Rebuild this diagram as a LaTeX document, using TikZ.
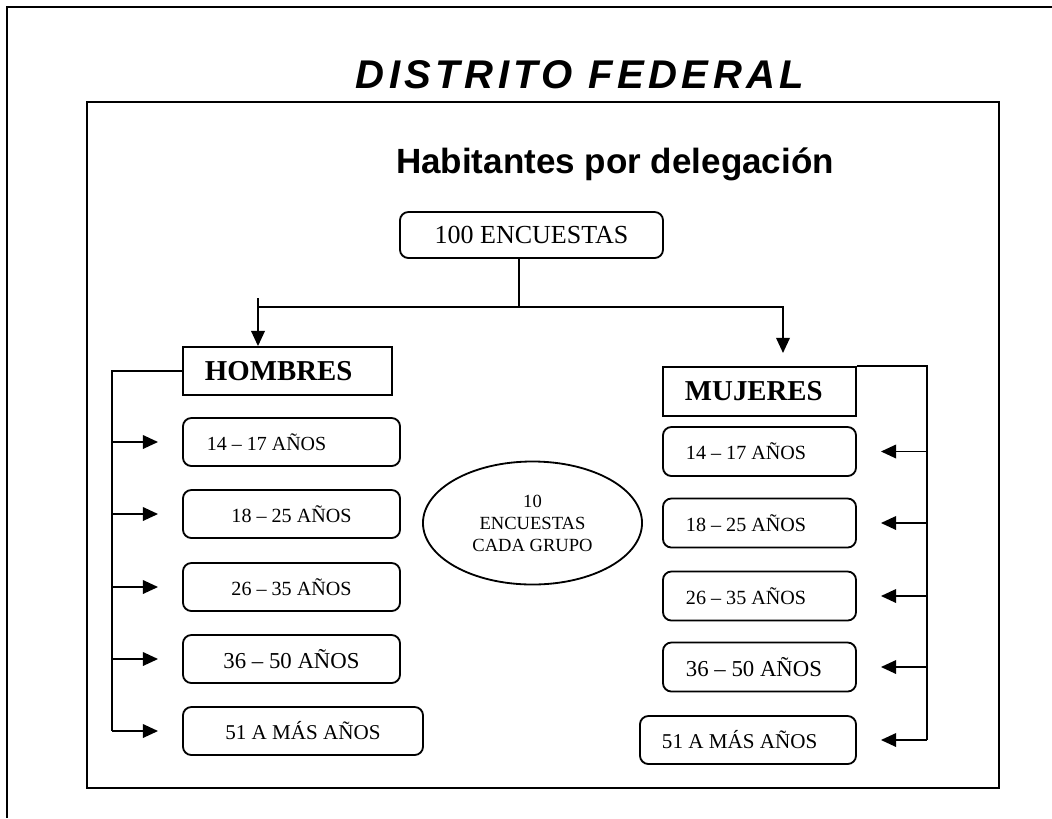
\documentclass[tikz,border=0pt]{standalone}
\usepackage{fontspec}
\setmainfont{Liberation Serif}
\setsansfont{Liberation Sans}
\newfontfamily\titlefont[LetterSpace=11]{Liberation Sans}
\usetikzlibrary{shapes.geometric,arrows.meta}

\begin{document}
\begin{tikzpicture}[x=0.025cm,y=-0.025cm]
\tikzstyle{agebox} = [rectangle, rounded corners=6pt, draw=black, line width=1.3pt, minimum height=1.2cm, text centered]
\tikzstyle{sexbox} = [rectangle, draw=black, line width=1.3pt, minimum height=1.2cm, inner xsep=0.55cm, align=flush left, font=\fontsize{20.5}{24}\selectfont\bfseries]
\tikzstyle{line} = [line width=1.3pt]
\tikzstyle{arrow} = [line width=1.3pt,->,>={Triangle[length=3.8mm,width=3.4mm]}]
\useasboundingbox (0,0) rectangle (1052,818);
% frames
\draw [line] (1052,7) -- (7,7) -- (7,818);
\draw [line] (87,102) rectangle (999,788);
% titles
\node (title) [anchor=base, font=\titlefont\bfseries\itshape\fontsize{28.5}{34}\selectfont] at (580,88) {DISTRITO FEDERAL};
\node (sub) [anchor=base, font=\sffamily\bfseries\fontsize{24.9}{30}\selectfont] at (615,173) {Habitantes por delegación};
\node (enc) [agebox, minimum width=6.575cm, minimum height=1.15cm, font=\fontsize{18.5}{22}\selectfont] at (531.5,235) {100 ENCUESTAS};
\node (hom) [sexbox, text width=4.125cm] at (287.5,371) {HOMBRES};
\node (muj) [sexbox, text width=3.725cm, minimum height=1.225cm] at (759.5,391.5) {MUJERES};
% hombres
\node (h1) [agebox, minimum width=5.425cm, inner xsep=0.6cm, text width=4.225cm, align=flush left, font=\fontsize{14.2}{17}\selectfont] at (291.5,442) {14 – 17 AÑOS};
\node (h2) [agebox, minimum width=5.425cm, font=\fontsize{14.3}{17}\selectfont] at (291.5,514) {18 – 25 AÑOS};
\node (h3) [agebox, minimum width=5.425cm, font=\fontsize{14.3}{17}\selectfont] at (291.5,587) {26 – 35 AÑOS};
\node (h4) [agebox, minimum width=5.425cm, font=\fontsize{16.2}{19}\selectfont] at (291.5,659) {36 – 50 AÑOS};
\node (h5) [agebox, minimum width=6cm, font=\fontsize{15}{18}\selectfont] at (303,731) {51 A MÁS AÑOS};
% mujeres
\node (m1) [agebox, minimum width=4.825cm, minimum height=1.225cm, inner xsep=0.575cm, text width=3.675cm, align=flush left, font=\fontsize{14.3}{17}\selectfont] at (759.5,451.5) {14 – 17 AÑOS};
\node (m2) [agebox, minimum width=4.825cm, minimum height=1.225cm, inner xsep=0.575cm, text width=3.675cm, align=flush left, font=\fontsize{14.3}{17}\selectfont] at (759.5,523) {18 – 25 AÑOS};
\node (m3) [agebox, minimum width=4.825cm, minimum height=1.225cm, inner xsep=0.575cm, text width=3.675cm, align=flush left, font=\fontsize{14.3}{17}\selectfont] at (759.5,596) {26 – 35 AÑOS};
\node (m4) [agebox, minimum width=4.825cm, minimum height=1.225cm, inner xsep=0.575cm, text width=3.675cm, align=flush left, font=\fontsize{16.2}{19}\selectfont] at (759.5,667) {36 – 50 AÑOS};
\node (m5) [agebox, minimum width=5.4cm, inner xsep=0.55cm, text width=4.3cm, align=flush left, font=\fontsize{15}{18}\selectfont] at (748,740) {51 A MÁS AÑOS};
\node (grp) [ellipse, draw=black, line width=1.3pt, minimum width=5.475cm, minimum height=3.075cm, align=center, font=\fontsize{13.2}{15.6}\selectfont] at (532.5,523) {10\\ENCUESTAS\\CADA GRUPO};
% connectors
\coordinate (split) at (519,307);
\coordinate (ldrop) at (258,298);
\coordinate (rdrop) at (783,353);
\coordinate (lbus) at (112,367);
\coordinate (rbus) at (927,367);
\draw [line] (enc.south -| split) -- (split);
\draw [arrow] (ldrop) -- (ldrop |- hom.north);
\draw [arrow] (ldrop |- split) -- (rdrop |- split) -- (rdrop);
\draw [line] (hom.west) -- (lbus |- hom.west) -- (lbus |- h5.west);
\draw [arrow, shorten >=0.6cm] (lbus |- h1.west) -- (h1.west);
\draw [arrow, shorten >=0.6cm] (lbus |- h2.west) -- (h2.west);
\draw [arrow, shorten >=0.6cm] (lbus |- h3.west) -- (h3.west);
\draw [arrow, shorten >=0.6cm] (lbus |- h4.west) -- (h4.west);
\draw [arrow, shorten >=0.6cm] (lbus |- h5.west) -- (h5.west);
\draw [line] (muj.north east) -- (rbus |- muj.north east) -- (rbus |- m5.east);
\draw [arrow, shorten >=0.6cm] (rbus |- m1.east) -- (m1.east);
\draw [arrow, shorten >=0.6cm] (rbus |- m2.east) -- (m2.east);
\draw [arrow, shorten >=0.6cm] (rbus |- m3.east) -- (m3.east);
\draw [arrow, shorten >=0.6cm] (rbus |- m4.east) -- (m4.east);
\draw [arrow, shorten >=0.6cm] (rbus |- m5.east) -- (m5.east);
\end{tikzpicture}
\end{document}
